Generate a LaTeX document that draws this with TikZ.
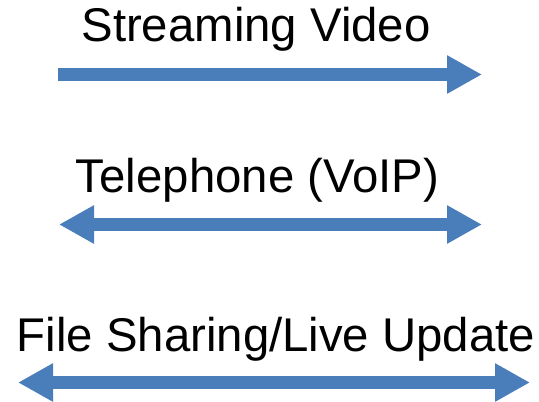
\documentclass[tikz,border=0pt]{standalone}
\usepackage{fontspec}
\setmainfont{Liberation Sans}
\usetikzlibrary{arrows.meta}
\definecolor{arrowblue}{HTML}{4A7EBB}
\tikzset{
  lbl/.style={anchor=base, inner sep=0pt, font=\fontsize{47.5}{57}\selectfont, text=black},
  flow/.style={draw=arrowblue, line width=13.5bp},
  headtip/.style={-{Triangle[length=35bp,width=36bp]}},
  bothtip/.style={{Triangle[length=35bp,width=36bp]}-{Triangle[length=35bp,width=36bp]}}
}
\begin{document}
\begin{tikzpicture}[x=1bp,y=-1bp]
\useasboundingbox (0,0) rectangle (539,401);
\node[lbl] (t1) at (256,41) {Streaming Video};
\node[lbl] (t2) at (257.5,192) {Telephone (VoIP)};
\node[lbl] (t3) at (276,351.5) {File Sharing/Live Update};
\coordinate (a1s) at (58,74.5);
\coordinate (a1e) at (482,74.5);
\coordinate (a2s) at (59,224.5);
\coordinate (a2e) at (482,224.5);
\coordinate (a3s) at (18,382.5);
\coordinate (a3e) at (530,382.5);
\draw[flow,headtip] (a1s) -- (a1e);
\draw[flow,bothtip] (a2s) -- (a2e);
\draw[flow,bothtip] (a3s) -- (a3e);
\end{tikzpicture}
\end{document}
